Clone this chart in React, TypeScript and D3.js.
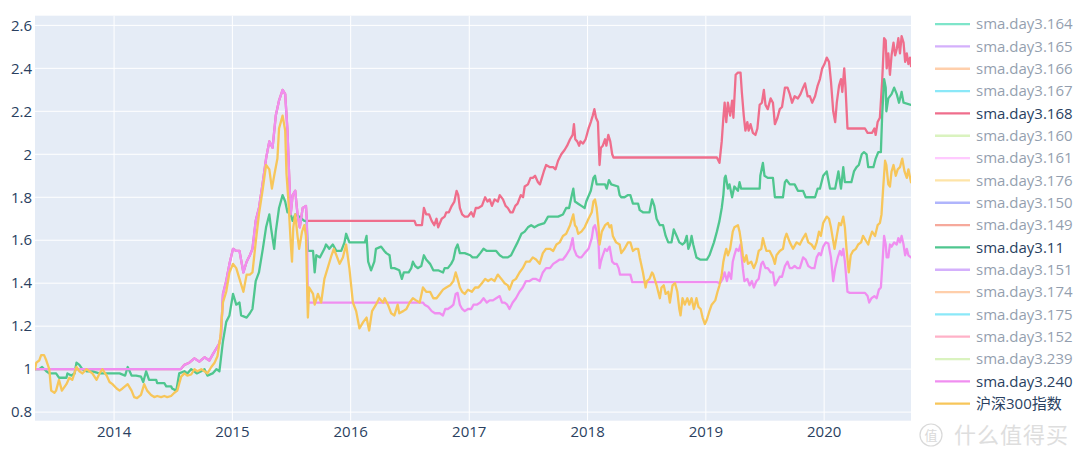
import React from "react";
import * as d3 from "d3";

type Pt = [string, number];

// ---- legend / trace names (in legend order) ----
const traceNames = [
  "sma.day3.164", "sma.day3.165", "sma.day3.166", "sma.day3.167", "sma.day3.168",
  "sma.day3.160", "sma.day3.161", "sma.day3.176", "sma.day3.150", "sma.day3.149",
  "sma.day3.11", "sma.day3.151", "sma.day3.174", "sma.day3.175", "sma.day3.152",
  "sma.day3.239", "sma.day3.240", "沪深300指数",
];
const traceColors = [
  "#00cc96", "#ab63fa", "#FFA15A", "#19d3f3", "#EF6E8C",
  "#B6E880", "#FF97FF", "#FECB52", "#636efa", "#EF553B",
  "#4FC68F", "#ab63fa", "#FFA15A", "#19d3f3", "#FF6692",
  "#B6E880", "#F08EF0", "#F7C65A",
];
const visibleTraces = ["sma.day3.168", "sma.day3.11", "sma.day3.240", "沪深300指数"];

const yTicks = [0.8, 1, 1.2, 1.4, 1.6, 1.8, 2, 2.2, 2.4, 2.6];
const yRange = [0.76, 2.645];

// ---- series ----
const sma168: Pt[] = [
  ["2013-05-02",1.0],["2014-07-26",1.0],["2014-08-06",1.02],["2014-08-21",1.03],["2014-09-06",1.05],["2014-09-21",1.035],["2014-10-07",1.055],["2014-10-22",1.04],["2014-11-02",1.07],["2014-11-12",1.095],["2014-11-22",1.12],["2014-11-27",1.16],["2014-12-03",1.35],["2014-12-13",1.41],["2014-12-23",1.49],["2015-01-03",1.56],["2015-01-13",1.55],["2015-01-23",1.55],["2015-02-04",1.45],["2015-02-14",1.50],["2015-02-24",1.53],["2015-03-04",1.56],["2015-03-14",1.69],["2015-03-24",1.75],["2015-04-05",1.87],["2015-04-15",1.98],["2015-04-25",2.06],["2015-05-05",2.03],["2015-05-15",2.18],["2015-05-25",2.25],["2015-06-05",2.30],["2015-06-13",2.28],["2015-06-20",2.11],["2015-06-25",1.91],["2015-06-30",1.72],["2015-07-06",1.81],["2015-07-14",1.83],["2015-07-21",1.72],["2015-07-28",1.66],["2015-08-06",1.75],["2015-08-16",1.76],["2015-08-19",1.69],
  ["2016-07-16",1.69],["2016-07-21",1.67],["2016-08-08",1.67],["2016-08-14",1.75],["2016-08-21",1.72],["2016-08-30",1.72],["2016-09-07",1.69],["2016-09-15",1.67],["2016-09-22",1.70],["2016-09-27",1.66],["2016-10-08",1.70],["2016-10-17",1.71],["2016-10-22",1.73],["2016-10-30",1.73],["2016-11-08",1.76],["2016-11-16",1.78],["2016-11-23",1.83],["2016-11-28",1.81],["2016-12-03",1.75],["2016-12-10",1.72],["2016-12-18",1.71],["2016-12-28",1.71],
  ["2017-01-07",1.73],["2017-01-14",1.71],["2017-01-21",1.75],["2017-01-29",1.75],["2017-02-09",1.76],["2017-02-19",1.80],["2017-02-26",1.78],["2017-03-05",1.79],["2017-03-12",1.76],["2017-03-20",1.79],["2017-03-30",1.78],["2017-04-05",1.81],["2017-04-15",1.79],["2017-04-23",1.76],["2017-04-30",1.75],["2017-05-08",1.73],["2017-05-15",1.73],["2017-05-23",1.76],["2017-05-30",1.77],["2017-06-09",1.81],["2017-06-16",1.80],["2017-06-21",1.85],["2017-07-01",1.86],["2017-07-09",1.89],["2017-07-16",1.89],["2017-07-23",1.90],["2017-08-01",1.87],["2017-08-07",1.86],["2017-08-13",1.89],["2017-08-19",1.92],["2017-08-26",1.95],["2017-09-07",1.94],["2017-09-17",1.94],["2017-09-24",1.93],["2017-10-02",1.97],["2017-10-12",2.00],["2017-10-22",2.02],["2017-10-30",2.04],["2017-11-08",2.07],["2017-11-16",2.09],["2017-11-20",2.14],["2017-11-24",2.07],["2017-11-30",2.06],["2017-12-06",2.04],["2017-12-10",2.06],["2017-12-18",2.05],["2017-12-26",2.07],
  ["2018-01-04",2.12],["2018-01-11",2.15],["2018-01-17",2.18],["2018-01-22",2.21],["2018-01-27",2.17],["2018-02-02",2.15],["2018-02-07",1.95],["2018-02-11",2.03],["2018-02-17",2.04],["2018-02-24",2.07],["2018-02-28",2.04],["2018-03-06",2.09],["2018-03-12",2.06],["2018-03-18",2.00],["2018-03-22",1.985],
  ["2019-02-04",1.985],["2019-02-12",1.96],["2019-02-19",2.06],["2019-02-24",2.17],["2019-02-28",2.24],["2019-03-05",2.15],["2019-03-10",2.24],["2019-03-17",2.18],["2019-03-23",2.25],["2019-03-27",2.17],["2019-04-03",2.37],["2019-04-10",2.38],["2019-04-18",2.38],["2019-04-22",2.29],["2019-04-28",2.18],["2019-05-03",2.11],["2019-05-09",2.15],["2019-05-13",2.11],["2019-05-19",2.14],["2019-05-26",2.10],["2019-06-03",2.09],["2019-06-09",2.12],["2019-06-16",2.23],["2019-06-23",2.24],["2019-06-29",2.30],["2019-07-04",2.23],["2019-07-11",2.21],["2019-07-20",2.26],["2019-07-27",2.24],["2019-08-02",2.14],["2019-08-10",2.17],["2019-08-17",2.21],["2019-08-24",2.22],["2019-09-02",2.31],["2019-09-10",2.31],["2019-09-17",2.28],["2019-09-24",2.24],["2019-10-02",2.27],["2019-10-12",2.26],["2019-10-20",2.28],["2019-10-28",2.31],["2019-11-03",2.33],["2019-11-11",2.27],["2019-11-18",2.27],["2019-11-25",2.24],["2019-12-04",2.27],["2019-12-12",2.32],["2019-12-19",2.35],["2019-12-26",2.40],
  ["2020-01-02",2.42],["2020-01-09",2.45],["2020-01-16",2.43],["2020-01-22",2.34],["2020-01-29",2.20],["2020-02-04",2.15],["2020-02-09",2.24],["2020-02-16",2.32],["2020-02-22",2.35],["2020-02-26",2.29],["2020-03-03",2.40],["2020-03-07",2.31],["2020-03-13",2.12],["2020-05-06",2.12],["2020-05-14",2.10],["2020-05-28",2.10],["2020-06-04",2.12],["2020-06-08",2.09],["2020-06-14",2.15],["2020-06-21",2.17],["2020-06-28",2.34],["2020-07-04",2.54],["2020-07-09",2.53],["2020-07-12",2.40],["2020-07-17",2.47],["2020-07-22",2.37],["2020-07-27",2.46],["2020-08-02",2.52],["2020-08-07",2.46],["2020-08-12",2.49],["2020-08-17",2.54],["2020-08-22",2.47],["2020-08-27",2.55],["2020-09-02",2.52],["2020-09-07",2.43],["2020-09-12",2.47],["2020-09-17",2.42],["2020-09-22",2.45],["2020-09-25",2.41],
];

const sma11: Pt[] = [
  ["2013-05-02",1.0],["2013-05-15",1.0],["2013-05-24",1.01],["2013-06-06",0.99],["2013-06-15",0.98],["2013-07-06",0.98],["2013-07-15",0.96],["2013-08-07",0.96],["2013-08-10",0.98],["2013-08-22",0.97],["2013-09-01",0.98],["2013-09-07",1.03],["2013-09-16",1.02],["2013-09-25",1.0],["2013-10-08",0.99],["2013-10-26",0.99],["2013-11-17",0.98],
  ["2014-01-18",0.98],["2014-02-04",0.97],["2014-02-12",1.01],["2014-02-24",0.97],["2014-03-10",0.97],["2014-03-25",0.965],["2014-04-01",0.94],["2014-04-10",0.99],["2014-04-19",0.95],["2014-05-11",0.95],["2014-05-14",0.935],["2014-06-05",0.935],["2014-06-11",0.92],["2014-06-26",0.92],["2014-06-29",0.91],["2014-07-12",0.90],["2014-07-21",0.98],["2014-08-06",0.99],["2014-08-15",0.98],["2014-08-27",1.0],["2014-09-13",0.98],["2014-09-27",0.99],["2014-10-07",1.0],["2014-10-16",0.97],["2014-11-01",0.98],["2014-11-13",1.0],["2014-11-22",0.99],["2014-12-03",1.13],["2014-12-13",1.22],["2014-12-23",1.25],
  ["2015-01-03",1.35],["2015-01-13",1.30],["2015-01-23",1.31],["2015-01-28",1.25],["2015-02-14",1.24],["2015-02-24",1.26],["2015-03-04",1.28],["2015-03-14",1.41],["2015-03-24",1.45],["2015-04-05",1.56],["2015-04-15",1.66],["2015-04-25",1.72],["2015-04-30",1.66],["2015-05-10",1.56],["2015-05-15",1.64],["2015-05-25",1.75],["2015-06-05",1.81],["2015-06-13",1.78],["2015-06-20",1.73],["2015-06-25",1.75],["2015-06-30",1.72],["2015-07-06",1.69],["2015-07-14",1.72],["2015-07-26",1.71],["2015-08-11",1.69],["2015-08-18",1.69],["2015-08-22",1.55],["2015-09-07",1.55],["2015-09-12",1.45],["2015-09-17",1.53],["2015-09-28",1.52],["2015-10-12",1.56],["2015-10-17",1.58],["2015-10-27",1.56],["2015-11-07",1.58],["2015-11-18",1.55],["2015-12-03",1.55],["2015-12-13",1.59],["2015-12-18",1.63],["2015-12-28",1.59],
  ["2016-02-14",1.59],["2016-02-19",1.62],["2016-02-24",1.50],["2016-03-04",1.46],["2016-03-14",1.50],["2016-03-19",1.56],["2016-04-04",1.57],["2016-04-14",1.55],["2016-04-20",1.54],["2016-04-30",1.53],["2016-05-05",1.47],["2016-05-15",1.47],["2016-05-30",1.46],["2016-06-07",1.42],["2016-06-13",1.45],["2016-06-28",1.45],["2016-07-06",1.47],["2016-07-11",1.50],["2016-07-18",1.48],["2016-07-26",1.47],["2016-08-06",1.48],["2016-08-14",1.53],["2016-08-21",1.51],["2016-09-02",1.49],["2016-09-12",1.46],["2016-09-27",1.46],["2016-10-12",1.45],["2016-10-17",1.47],["2016-10-27",1.47],["2016-11-06",1.49],["2016-11-13",1.51],["2016-11-20",1.56],["2016-11-26",1.58],["2016-12-03",1.54],["2016-12-18",1.54],
  ["2017-01-04",1.53],["2017-01-11",1.52],["2017-01-24",1.52],["2017-02-04",1.54],["2017-02-14",1.56],["2017-02-24",1.55],["2017-03-25",1.55],["2017-04-05",1.53],["2017-04-15",1.52],["2017-04-30",1.52],["2017-05-10",1.53],["2017-05-20",1.56],["2017-05-30",1.59],["2017-06-11",1.63],["2017-06-21",1.64],["2017-07-01",1.66],["2017-07-11",1.67],["2017-07-21",1.66],["2017-08-01",1.67],["2017-08-21",1.68],["2017-09-01",1.71],["2017-10-02",1.71],["2017-10-17",1.72],["2017-10-27",1.75],["2017-11-05",1.75],["2017-11-12",1.80],["2017-11-18",1.84],["2017-11-23",1.78],["2017-12-03",1.77],["2017-12-13",1.76],["2017-12-23",1.75],["2017-12-28",1.78],
  ["2018-01-11",1.83],["2018-01-19",1.89],["2018-01-24",1.90],["2018-01-29",1.86],["2018-02-24",1.86],["2018-03-01",1.84],["2018-03-08",1.88],["2018-03-15",1.86],["2018-04-05",1.85],["2018-04-10",1.81],["2018-04-15",1.80],["2018-04-25",1.80],["2018-05-06",1.81],["2018-05-13",1.81],["2018-05-21",1.77],["2018-06-06",1.77],["2018-06-11",1.74],["2018-06-21",1.73],["2018-07-11",1.73],["2018-07-19",1.79],["2018-07-26",1.76],["2018-08-02",1.70],["2018-08-12",1.67],["2018-08-22",1.67],["2018-08-30",1.62],["2018-09-07",1.59],["2018-09-17",1.59],["2018-09-24",1.65],["2018-10-03",1.62],["2018-10-11",1.59],["2018-10-21",1.58],["2018-10-28",1.59],["2018-11-03",1.62],["2018-11-08",1.56],["2018-11-13",1.58],["2018-11-18",1.62],["2018-11-23",1.58],["2018-11-28",1.55],["2018-12-03",1.52],["2018-12-14",1.51],
  ["2019-01-04",1.51],["2019-01-12",1.53],["2019-01-19",1.56],["2019-01-26",1.59],["2019-02-04",1.64],["2019-02-12",1.69],["2019-02-19",1.75],["2019-02-24",1.81],["2019-02-28",1.89],["2019-03-03",1.90],["2019-03-10",1.84],["2019-03-15",1.86],["2019-03-23",1.80],["2019-03-30",1.85],["2019-04-10",1.83],["2019-04-15",1.87],["2019-04-20",1.84],["2019-06-16",1.84],["2019-06-18",1.90],["2019-06-26",1.96],["2019-07-01",1.90],["2019-07-11",1.89],["2019-07-27",1.89],["2019-08-02",1.80],["2019-08-27",1.80],["2019-09-02",1.87],["2019-09-07",1.88],["2019-09-17",1.86],["2019-10-02",1.86],["2019-10-12",1.83],["2019-10-28",1.83],["2019-11-05",1.80],["2019-12-04",1.80],["2019-12-12",1.84],["2019-12-19",1.84],["2019-12-29",1.90],
  ["2020-01-09",1.92],["2020-01-19",1.84],["2020-02-04",1.84],["2020-02-14",1.92],["2020-02-22",1.84],["2020-02-29",1.94],["2020-03-05",1.87],["2020-03-25",1.87],["2020-04-02",1.92],["2020-04-10",1.94],["2020-04-17",1.95],["2020-04-26",2.00],["2020-05-03",2.01],["2020-05-11",2.00],["2020-05-16",1.94],["2020-06-01",1.94],["2020-06-08",1.98],["2020-06-16",2.01],["2020-06-24",2.01],["2020-06-28",2.18],["2020-07-04",2.35],["2020-07-09",2.31],["2020-07-11",2.20],["2020-07-17",2.26],["2020-07-27",2.28],["2020-08-04",2.31],["2020-08-12",2.28],["2020-08-19",2.24],["2020-08-27",2.29],["2020-09-02",2.24],["2020-09-25",2.23],
];

const sma240: Pt[] = [
  ["2013-05-02",1.0],["2014-07-26",1.0],["2014-08-06",1.02],["2014-08-21",1.03],["2014-09-06",1.05],["2014-09-21",1.035],["2014-10-07",1.055],["2014-10-22",1.04],["2014-11-02",1.07],["2014-11-12",1.095],["2014-11-22",1.12],["2014-11-27",1.16],["2014-12-03",1.35],["2014-12-13",1.41],["2014-12-23",1.49],["2015-01-03",1.56],["2015-01-13",1.55],["2015-01-23",1.55],["2015-02-04",1.45],["2015-02-14",1.50],["2015-02-24",1.53],["2015-03-04",1.56],["2015-03-14",1.69],["2015-03-24",1.75],["2015-04-05",1.87],["2015-04-15",1.98],["2015-04-25",2.06],["2015-05-05",2.03],["2015-05-15",2.18],["2015-05-25",2.25],["2015-06-05",2.30],["2015-06-13",2.28],["2015-06-20",2.11],["2015-06-25",1.91],["2015-06-30",1.72],["2015-07-06",1.81],["2015-07-14",1.83],["2015-07-21",1.72],["2015-07-28",1.66],["2015-08-06",1.75],["2015-08-16",1.76],["2015-08-19",1.69],["2015-08-22",1.31],
  ["2016-08-11",1.31],["2016-08-16",1.30],["2016-08-27",1.29],["2016-09-07",1.27],["2016-09-17",1.26],["2016-10-02",1.26],["2016-10-12",1.25],["2016-10-19",1.28],["2016-10-27",1.28],["2016-11-06",1.29],["2016-11-13",1.30],["2016-11-20",1.35],["2016-11-26",1.355],["2016-12-03",1.30],["2016-12-10",1.28],["2016-12-18",1.27],["2016-12-28",1.28],
  ["2017-01-07",1.28],["2017-01-14",1.30],["2017-01-24",1.30],["2017-02-04",1.31],["2017-02-14",1.33],["2017-02-24",1.31],["2017-03-05",1.32],["2017-03-15",1.32],["2017-03-25",1.33],["2017-04-05",1.34],["2017-04-12",1.31],["2017-04-20",1.31],["2017-04-28",1.30],["2017-05-05",1.28],["2017-05-15",1.31],["2017-05-25",1.33],["2017-06-05",1.36],["2017-06-15",1.38],["2017-06-25",1.41],["2017-07-06",1.41],["2017-07-16",1.42],["2017-07-26",1.42],["2017-08-06",1.41],["2017-08-16",1.45],["2017-08-26",1.47],["2017-09-07",1.47],["2017-09-17",1.49],["2017-09-27",1.50],["2017-10-07",1.51],["2017-10-17",1.51],["2017-10-27",1.53],["2017-11-08",1.56],["2017-11-16",1.61],["2017-11-20",1.56],["2017-11-28",1.53],["2017-12-06",1.52],["2017-12-13",1.52],["2017-12-23",1.54],
  ["2018-01-04",1.56],["2018-01-14",1.61],["2018-01-19",1.66],["2018-01-24",1.67],["2018-01-29",1.64],["2018-02-04",1.58],["2018-02-07",1.47],["2018-02-11",1.50],["2018-02-17",1.53],["2018-02-24",1.56],["2018-03-02",1.55],["2018-03-10",1.57],["2018-03-18",1.50],["2018-03-25",1.49],["2018-04-01",1.49],["2018-04-07",1.47],["2018-04-11",1.44],["2018-05-13",1.44],["2018-05-19",1.405],
  ["2019-02-04",1.405],["2019-02-14",1.40],["2019-02-22",1.42],["2019-02-28",1.45],["2019-03-07",1.41],["2019-03-13",1.45],["2019-03-20",1.42],["2019-03-25",1.50],["2019-03-30",1.53],["2019-04-05",1.56],["2019-04-12",1.55],["2019-04-18",1.58],["2019-04-25",1.47],["2019-04-30",1.41],["2019-05-09",1.42],["2019-05-16",1.39],["2019-05-23",1.41],["2019-05-29",1.38],["2019-06-06",1.41],["2019-06-13",1.42],["2019-06-21",1.49],["2019-06-26",1.50],["2019-07-04",1.47],["2019-07-11",1.47],["2019-07-20",1.45],["2019-07-27",1.45],["2019-08-02",1.39],["2019-08-10",1.41],["2019-08-17",1.43],["2019-08-24",1.43],["2019-09-02",1.48],["2019-09-10",1.50],["2019-09-17",1.47],["2019-09-24",1.47],["2019-10-02",1.48],["2019-10-10",1.47],["2019-10-18",1.47],["2019-10-28",1.52],["2019-11-05",1.51],["2019-11-13",1.48],["2019-11-23",1.47],["2019-12-02",1.47],["2019-12-09",1.52],["2019-12-16",1.54],["2019-12-22",1.53],["2019-12-29",1.57],
  ["2020-01-06",1.59],["2020-01-14",1.585],["2020-01-22",1.52],["2020-01-29",1.41],["2020-02-04",1.47],["2020-02-12",1.52],["2020-02-19",1.55],["2020-02-24",1.53],["2020-02-29",1.56],["2020-03-05",1.50],["2020-03-13",1.36],["2020-03-20",1.355],["2020-05-06",1.355],["2020-05-14",1.34],["2020-05-19",1.31],["2020-05-26",1.33],["2020-06-04",1.34],["2020-06-11",1.33],["2020-06-18",1.37],["2020-06-24",1.38],["2020-06-28",1.47],["2020-07-04",1.62],["2020-07-09",1.58],["2020-07-12",1.52],["2020-07-17",1.52],["2020-07-22",1.58],["2020-07-27",1.57],["2020-08-04",1.59],["2020-08-12",1.58],["2020-08-17",1.61],["2020-08-22",1.59],["2020-08-27",1.62],["2020-09-02",1.58],["2020-09-07",1.53],["2020-09-12",1.56],["2020-09-17",1.53],["2020-09-25",1.52],
];

const hs300: Pt[] = [
  ["2013-05-02",1.00],["2013-05-06",1.03],["2013-05-15",1.04],["2013-05-21",1.065],["2013-05-30",1.065],["2013-06-06",1.04],["2013-06-15",1.00],["2013-06-21",0.90],["2013-07-01",0.89],["2013-07-06",0.90],["2013-07-15",0.95],["2013-07-24",0.90],["2013-08-07",0.93],["2013-08-16",0.96],["2013-08-25",0.95],["2013-09-07",1.01],["2013-09-16",0.99],["2013-09-25",0.98],["2013-10-08",1.00],["2013-10-17",0.99],["2013-10-26",0.98],["2013-11-08",0.95],["2013-11-17",0.98],["2013-11-26",1.00],["2013-12-09",0.97],["2013-12-18",0.94],["2013-12-27",0.93],
  ["2014-01-09",0.91],["2014-01-18",0.90],["2014-01-27",0.91],["2014-02-12",0.93],["2014-02-24",0.90],["2014-03-04",0.87],["2014-03-13",0.865],["2014-03-25",0.88],["2014-04-04",0.93],["2014-04-13",0.90],["2014-04-25",0.88],["2014-05-05",0.87],["2014-05-14",0.875],["2014-05-26",0.87],["2014-06-05",0.875],["2014-06-14",0.87],["2014-06-26",0.875],["2014-07-06",0.89],["2014-07-15",0.90],["2014-07-27",0.965],["2014-08-06",0.98],["2014-08-15",0.97],["2014-08-27",0.975],["2014-09-06",1.00],["2014-09-15",0.99],["2014-09-27",1.00],["2014-10-07",0.99],["2014-10-16",0.98],["2014-10-28",1.01],["2014-11-07",1.03],["2014-11-16",1.06],["2014-11-25",1.15],["2014-12-03",1.31],["2014-12-13",1.36],["2014-12-23",1.45],
  ["2015-01-03",1.49],["2015-01-13",1.47],["2015-01-23",1.42],["2015-02-04",1.36],["2015-02-14",1.44],["2015-02-24",1.44],["2015-03-04",1.45],["2015-03-14",1.59],["2015-03-24",1.72],["2015-04-05",1.84],["2015-04-15",1.95],["2015-04-25",1.93],["2015-05-03",1.84],["2015-05-10",1.90],["2015-05-20",1.98],["2015-05-25",2.12],["2015-06-05",2.18],["2015-06-13",2.11],["2015-06-17",1.91],["2015-06-23",1.78],["2015-06-30",1.59],["2015-07-04",1.50],["2015-07-08",1.66],["2015-07-14",1.72],["2015-07-21",1.62],["2015-07-26",1.56],["2015-08-04",1.64],["2015-08-11",1.67],["2015-08-16",1.62],["2015-08-22",1.24],["2015-08-26",1.38],["2015-09-07",1.35],["2015-09-12",1.30],["2015-09-22",1.35],["2015-10-02",1.31],["2015-10-12",1.42],["2015-10-22",1.47],["2015-11-03",1.53],["2015-11-10",1.56],["2015-11-18",1.53],["2015-11-28",1.49],["2015-12-08",1.52],["2015-12-18",1.58],["2015-12-28",1.47],
  ["2016-01-08",1.31],["2016-01-18",1.27],["2016-01-28",1.19],["2016-02-09",1.22],["2016-02-19",1.24],["2016-02-27",1.18],["2016-03-07",1.27],["2016-03-19",1.30],["2016-03-29",1.33],["2016-04-10",1.31],["2016-04-15",1.33],["2016-04-25",1.30],["2016-05-05",1.26],["2016-05-15",1.25],["2016-05-25",1.30],["2016-05-30",1.26],["2016-06-11",1.27],["2016-06-21",1.28],["2016-07-01",1.31],["2016-07-11",1.33],["2016-07-21",1.32],["2016-08-01",1.31],["2016-08-11",1.38],["2016-08-21",1.36],["2016-09-02",1.36],["2016-09-12",1.33],["2016-09-22",1.33],["2016-10-02",1.35],["2016-10-12",1.37],["2016-10-22",1.38],["2016-11-03",1.39],["2016-11-13",1.41],["2016-11-20",1.45],["2016-11-26",1.42],["2016-12-03",1.38],["2016-12-10",1.36],["2016-12-18",1.35],["2016-12-28",1.37],
  ["2017-01-09",1.36],["2017-01-19",1.38],["2017-01-29",1.38],["2017-02-09",1.40],["2017-02-19",1.42],["2017-02-28",1.41],["2017-03-10",1.42],["2017-03-20",1.41],["2017-03-30",1.44],["2017-04-10",1.42],["2017-04-20",1.40],["2017-04-30",1.39],["2017-05-05",1.37],["2017-05-15",1.41],["2017-05-25",1.42],["2017-06-05",1.45],["2017-06-15",1.47],["2017-06-25",1.50],["2017-07-06",1.50],["2017-07-16",1.52],["2017-07-26",1.51],["2017-08-06",1.49],["2017-08-16",1.54],["2017-08-26",1.56],["2017-09-07",1.56],["2017-09-17",1.55],["2017-09-27",1.58],["2017-10-07",1.59],["2017-10-17",1.62],["2017-10-27",1.63],["2017-11-08",1.67],["2017-11-18",1.72],["2017-11-23",1.67],["2017-11-28",1.66],["2017-12-03",1.63],["2017-12-13",1.64],["2017-12-23",1.66],
  ["2018-01-04",1.70],["2018-01-14",1.73],["2018-01-19",1.78],["2018-01-24",1.79],["2018-01-29",1.75],["2018-02-04",1.66],["2018-02-07",1.58],["2018-02-14",1.64],["2018-02-24",1.67],["2018-03-05",1.68],["2018-03-10",1.66],["2018-03-15",1.67],["2018-03-20",1.62],["2018-03-30",1.59],["2018-04-10",1.58],["2018-04-15",1.54],["2018-04-25",1.56],["2018-05-06",1.59],["2018-05-13",1.59],["2018-05-21",1.55],["2018-05-29",1.56],["2018-06-06",1.56],["2018-06-11",1.52],["2018-06-21",1.45],["2018-06-29",1.38],["2018-07-03",1.41],["2018-07-11",1.42],["2018-07-19",1.45],["2018-07-23",1.44],["2018-08-02",1.39],["2018-08-12",1.33],["2018-08-17",1.38],["2018-08-24",1.39],["2018-08-30",1.35],["2018-09-07",1.36],["2018-09-12",1.31],["2018-09-20",1.39],["2018-09-28",1.40],["2018-10-05",1.36],["2018-10-11",1.28],["2018-10-15",1.25],["2018-10-21",1.33],["2018-10-28",1.30],["2018-11-05",1.33],["2018-11-11",1.30],["2018-11-18",1.33],["2018-11-25",1.28],["2018-12-03",1.33],["2018-12-09",1.29],["2018-12-16",1.28],["2018-12-22",1.24],["2018-12-29",1.21],
  ["2019-01-04",1.23],["2019-01-12",1.27],["2019-01-19",1.30],["2019-01-30",1.32],["2019-02-06",1.36],["2019-02-12",1.39],["2019-02-19",1.44],["2019-02-24",1.50],["2019-02-28",1.53],["2019-03-05",1.56],["2019-03-10",1.53],["2019-03-17",1.56],["2019-03-25",1.64],["2019-03-30",1.66],["2019-04-10",1.67],["2019-04-15",1.64],["2019-04-20",1.59],["2019-04-25",1.53],["2019-04-30",1.50],["2019-05-06",1.53],["2019-05-11",1.49],["2019-05-21",1.50],["2019-05-29",1.47],["2019-06-06",1.50],["2019-06-13",1.55],["2019-06-21",1.56],["2019-06-26",1.61],["2019-07-01",1.58],["2019-07-07",1.55],["2019-07-17",1.55],["2019-07-27",1.52],["2019-08-02",1.49],["2019-08-07",1.53],["2019-08-17",1.55],["2019-08-27",1.56],["2019-09-02",1.61],["2019-09-07",1.63],["2019-09-17",1.59],["2019-09-27",1.56],["2019-10-08",1.59],["2019-10-18",1.58],["2019-10-28",1.61],["2019-11-05",1.63],["2019-11-13",1.59],["2019-11-23",1.58],["2019-12-02",1.56],["2019-12-09",1.59],["2019-12-16",1.64],["2019-12-22",1.62],["2019-12-29",1.68],
  ["2020-01-09",1.71],["2020-01-16",1.70],["2020-01-22",1.66],["2020-02-02",1.56],["2020-02-09",1.62],["2020-02-16",1.68],["2020-02-22",1.67],["2020-02-29",1.71],["2020-03-05",1.66],["2020-03-10",1.56],["2020-03-17",1.45],["2020-03-23",1.53],["2020-03-30",1.55],["2020-04-08",1.56],["2020-04-15",1.58],["2020-04-24",1.59],["2020-04-30",1.62],["2020-05-08",1.60],["2020-05-16",1.58],["2020-05-21",1.61],["2020-05-28",1.64],["2020-06-06",1.62],["2020-06-14",1.67],["2020-06-21",1.68],["2020-06-26",1.72],["2020-07-01",1.84],["2020-07-07",1.97],["2020-07-11",1.95],["2020-07-17",1.86],["2020-07-22",1.85],["2020-07-27",1.92],["2020-08-02",1.95],["2020-08-09",1.90],["2020-08-15",1.93],["2020-08-22",1.94],["2020-08-29",1.98],["2020-09-05",1.92],["2020-09-12",1.89],["2020-09-17",1.93],["2020-09-25",1.87],
];

const seriesByName: Record<string, Pt[]> = {
  "sma.day3.168": sma168,
  "sma.day3.11": sma11,
  "sma.day3.240": sma240,
  "沪深300指数": hs300,
};

const FONT = "'Open Sans', 'Noto Sans CJK SC', verdana, arial, sans-serif";
const TEXT = "#2a3f5f";

export default function App() {
  const W = 1080, H = 464;
  const plot = { left: 35, right: 911, top: 15.7, bottom: 420.7 };
  const parse = d3.timeParse("%Y-%m-%d");

  const allDates = Object.values(seriesByName).flat().map((d) => parse(d[0]) as Date);
  const x = d3.scaleTime()
    .domain(d3.extent(allDates) as [Date, Date])
    .range([plot.left, plot.right]);
  const y = d3.scaleLinear().domain(yRange).range([plot.bottom, plot.top]);

  const xTicks = x.ticks(d3.timeYear.every(1) as any).filter((d) => {
    const px = x(d);
    return px > plot.left + 2 && px < plot.right - 2;
  });

  const line = d3.line<Pt>()
    .x((d) => x(parse(d[0]) as Date))
    .y((d) => y(d[1]));

  const legendX0 = 935, legendX1 = 970, legendTextX = 976;
  const legendY0 = 24.1, legendStep = 22.33;

  return (
    <svg width={W} height={H} style={{ position: "absolute", left: 0, top: 0, background: "#fff" }}
      fontFamily={FONT}>
      <defs>
        <clipPath id="plotclip">
          <rect x={plot.left} y={plot.top} width={plot.right - plot.left} height={plot.bottom - plot.top} />
        </clipPath>
      </defs>
      <rect x={0} y={0} width={W} height={H} fill="#fff" />
      <rect x={plot.left} y={plot.top} width={plot.right - plot.left} height={plot.bottom - plot.top} fill="#E5ECF6" />
      {/* gridlines */}
      {yTicks.map((t) => (
        <line key={"gy" + t} x1={plot.left} x2={plot.right} y1={y(t)} y2={y(t)} stroke="#fff" strokeWidth={1} />
      ))}
      {xTicks.map((t) => (
        <line key={"gx" + t.getTime()} x1={x(t)} x2={x(t)} y1={plot.top} y2={plot.bottom} stroke="#fff" strokeWidth={1} />
      ))}
      {/* lines */}
      <g clipPath="url(#plotclip)">
        {traceNames.map((name, i) => {
          if (!visibleTraces.includes(name)) return null;
          const data = seriesByName[name];
          return (
            <path key={name} d={line(data) || ""} fill="none" stroke={traceColors[i]}
              strokeWidth={2.3} strokeLinejoin="round" strokeLinecap="round" />
          );
        })}
      </g>
      {/* y tick labels */}
      {yTicks.map((t) => (
        <text key={"ty" + t} x={32} y={y(t)} dy="0.35em" textAnchor="end" fontSize={15} fill={TEXT}>
          {String(+t.toFixed(1))}
        </text>
      ))}
      {/* x tick labels */}
      {xTicks.map((t) => (
        <text key={"tx" + t.getTime()} x={x(t)} y={437} textAnchor="middle" fontSize={15} fill={TEXT}>
          {d3.timeFormat("%Y")(t)}
        </text>
      ))}
      {/* legend */}
      {traceNames.map((name, i) => {
        const yy = legendY0 + i * legendStep;
        const vis = visibleTraces.includes(name);
        return (
          <g key={"lg" + name} opacity={vis ? 1 : 0.5}>
            <line x1={legendX0} x2={legendX1} y1={yy} y2={yy} stroke={traceColors[i]} strokeWidth={2.3} />
            <text x={legendTextX} y={yy} dy="0.35em" fontSize={15} fill={TEXT}>{name}</text>
          </g>
        );
      })}
      {/* watermark */}
      <g opacity={0.55}>
        <circle cx={931} cy={435} r={11} fill="none" stroke="#bbbbbb" strokeWidth={1.2} />
        <text x={931} y={435} dy="0.36em" textAnchor="middle" fontSize={13} fill="#bbbbbb">值</text>
        <text x={954} y={435} dy="0.36em" fontSize={22} fill="#c4c4c4" letterSpacing={1}>什么值得买</text>
      </g>
    </svg>
  );
}
